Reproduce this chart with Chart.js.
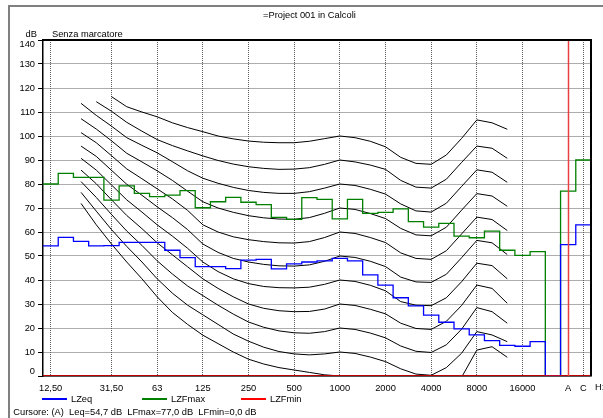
<!DOCTYPE html>
<html><head><meta charset="utf-8">
<script src="https://cdn.jsdelivr.net/npm/chart.js@4/dist/chart.umd.min.js"></script>
<style>
html,body{margin:0;padding:0;background:#fff;}
#wrap{position:relative;width:603px;height:418px;overflow:hidden;font-family:"Liberation Sans",Arial,sans-serif;font-size:9.3px;color:#000;}
#c{position:absolute;left:0;top:0;}
.t{position:absolute;white-space:pre;line-height:9.3px;}
.fr{position:absolute;background:#808080;}
.sw{position:absolute;height:0;width:25px;border-top-width:2px;border-top-style:solid;}
</style></head>
<body><div id="wrap">
<div class="fr" style="left:8px;top:5px;width:595px;height:1.5px"></div>
<div class="fr" style="left:8px;top:5px;width:1.5px;height:413px"></div>
<canvas id="c" width="603" height="418"></canvas>
<div class="t" style="left:263px;top:11.3px">=Project 001 in Calcoli</div>
<div class="t" style="left:25.5px;top:29.7px">dB</div>
<div class="t" style="left:52px;top:29.7px">Senza marcatore</div>
<div class="t" style="left:595px;top:383px">H:</div>
<div class="sw" style="left:42px;top:398px;border-top-color:#0000ff"></div>
<div class="t" style="left:71px;top:395px">LZeq</div>
<div class="sw" style="left:141.5px;top:398px;border-top-color:#008000"></div>
<div class="t" style="left:171px;top:395px">LZFmax</div>
<div class="sw" style="left:240.5px;top:398px;border-top-color:#ff0000"></div>
<div class="t" style="left:270px;top:395px">LZFmin</div>
<div class="t" style="left:13.3px;top:408.3px">Cursore: (A)  Leq=54,7 dB  LFmax=77,0 dB  LFmin=0,0 dB</div>
</div>
<script>
// ---- data ----
const bandLabels = ['12,50','16','20','25','31,50','40','50','63','80','100','125','160','200','250','315','400','500','630','800','1000','1250','1600','2000','2500','3150','4000','5000','6300','8000','10000','12500','16000','20000'];
const totalLabels = ['', 'A', 'C'];
const tickLabels = ['12,50','31,50','63','125','250','500','1000','2000','4000','8000','16000','A','C'];
const yTicks = [0,10,20,30,40,50,60,70,80,90,100,110,120,130,140];

const LZeq   = [54.2,57.8,56.1,54.2,54.3,55.7,55.7,55.7,52.4,49.3,45.6,45.6,44.7,48.3,48.6,44.6,46.7,47.5,48.0,49.0,48.0,42.1,37.9,32.6,29.2,25.4,22.4,19.6,17.1,14.7,12.8,12.4,14.3];
const LZFmax = [80.0,84.4,82.8,82.8,73.3,79.2,76.1,74.7,75.4,77.2,70.1,72.6,74.4,72.4,71.4,66.1,65.3,74.3,73.6,65.5,73.6,67.8,68.2,69.6,64.3,62.0,63.6,58.3,57.6,60.4,52.4,50.3,51.8];
const LZFmin = [0,0,0,0,0,0,0,0,0,0,0,0,0,0,0,0,0,0,0,0,0,0,0,0,0,0,0,0,0,0,0,0,0];
const LZeqTot   = [0, 54.7, 63.0];
const LZFmaxTot = [0, 77.0, 90.0];
const LZFminTot = [0, 0.0, 0.0];
const cursorLabel = 'A';

// equal-loudness contours (phon), per band, null = not drawn
const phon0   = [null,null,71.9,63,55,47.5,40.5,33,26.5,21.5,17,13.5,10,7,5,3.5,2.5,1.5,0.5,0,-0.5,-2,-4,-6.5,-8.5,-9,-6,-0.5,10.8,12.2,7.8,null,null];
const phon10  = [null,null,76.5,68.7,61,54,47.5,40.5,34.5,29.5,25.5,21.5,17.5,14.5,12,10.2,9.2,8.8,9.2,10,9.4,7.9,6,3,0.8,0.3,3.5,9.5,18.5,17.1,14.3,null,null];
const phon20  = [null,null,81,74.4,67.3,60.4,54.4,48,42.5,37.5,33.5,29.5,25.8,22.5,20.3,18.8,18,17.8,18.5,20,19.4,17.9,15.9,12.5,10.3,9.8,13,19.5,28.5,26.8,22,null,null];
const phon30  = [null,null,85.8,80.1,73.4,66.9,61.4,55.5,50.5,45.5,40.5,36.5,33,30,28.2,27.2,26.8,26.9,27.9,30,29.4,27.8,25.9,22,19.8,19.4,22.8,29.4,37.9,36.5,30.3,null,null];
const phon40  = [null,null,90.7,85.8,79.6,73.4,68.3,63,58.3,53.2,47.5,43.5,40.5,38.5,37.3,36.8,36.7,37,38.2,40,39.4,37.8,35.5,31,29.5,29.3,32.6,39.3,47,46,40.5,null,null];
const phon50  = [null,null,95.8,91.5,85.7,79.9,75.3,70.5,66,61,55,51.5,49,47.5,46.5,45.9,45.8,46.3,47.8,50,49.4,47.8,45.6,41.2,39.2,39,42.4,49.3,56.5,55.5,50.6,null,null];
const phon60  = [null,null,101.4,97.2,91.8,86.3,82.2,78,73.8,69,63,60,58,56.8,56,55.5,55.4,56,57.7,60,59.4,57.7,55.6,51.3,49,48.6,52.2,59.2,66.2,65.2,60.6,null,null];
const phon70  = [null,null,107.2,102.9,98,92.8,89.2,85.5,81.5,77,72.6,70,68.2,66.8,65.9,65.4,65.3,66,67.8,70,69.4,67.7,65.6,61.5,58.8,58.4,62,69.1,76,75,70.7,null,null];
const phon80  = [null,null,113.6,108.6,104.1,99.3,96.1,93,89.3,85.5,82.4,80.3,78.6,77.3,76.5,76.1,76.1,76.8,78.3,80,79.4,77.8,75.8,71.7,68.8,68.3,72,79,85.9,84.9,80.7,null,null];
const phon90  = [null,null,null,114.3,110.3,105.7,102,98.5,96,93.8,91.7,89.8,88.3,87.2,86.5,86.1,86.2,86.8,88.2,90,89.2,87.9,86.1,81.5,78.7,78.3,82,89,95.8,94.9,90.7,null,null];
const phon100 = [null,null,null,null,116.4,112.2,110,108,105.5,103.5,101.8,100,98.8,97.9,97.4,97.2,97.2,97.8,98.9,100,99.3,97.8,95.5,91.1,88.6,88.2,92.1,99,106.7,105.5,102.8,null,null];
const contours = [phon0,phon10,phon20,phon30,phon40,phon50,phon60,phon70,phon80,phon90,phon100];

// ---- build ----
const categories = bandLabels.concat(totalLabels);
const tickPos = tickLabels.map(l => categories.indexOf(l));
const cursorPos = categories.indexOf(cursorLabel);

function stepData(vals){
  const pts = vals.map((v,i) => ({x: i - 0.5, y: v}));
  pts.push({x: vals.length - 0.5, y: vals[vals.length - 1]});
  return pts;
}
function curveData(vals){
  return vals.map((v,i) => v === null ? null : {x: i, y: v}).filter(p => p);
}

const datasets = [
  {label:'LZFmin', data: stepData(LZFmin.concat(LZFminTot)), borderColor:'#ff0000', borderWidth:1.5, stepped:true, order:0},
  {label:'LZeq',   data: stepData(LZeq.concat(LZeqTot)),     borderColor:'#0000ff', borderWidth:1.3, stepped:true, order:1},
  {label:'LZFmax', data: stepData(LZFmax.concat(LZFmaxTot)), borderColor:'#008000', borderWidth:1.3, stepped:true, order:2},
];
contours.forEach((c,k) => datasets.push({
  label:'phon' + (k*10), data: curveData(c), borderColor:'#000', borderWidth:1, tension:0, order:10
}));

const framePlugin = {
  id:'frame',
  afterDatasetsDraw(chart){
    const {ctx, chartArea:a, scales:{x}} = chart;
    ctx.save();
    const cx = Math.round(x.getPixelForValue(cursorPos)) + 0.5;
    ctx.strokeStyle = '#e84040'; ctx.lineWidth = 1.5;
    ctx.beginPath(); ctx.moveTo(cx, a.top); ctx.lineTo(cx, a.bottom); ctx.stroke();
    ctx.strokeStyle = '#000'; ctx.lineWidth = 2;
    ctx.beginPath(); ctx.moveTo(a.left, a.top); ctx.lineTo(a.right, a.top); ctx.lineTo(a.right, a.bottom); ctx.stroke();
    ctx.restore();
  }
};

const font = {family:'"Liberation Sans", Arial, sans-serif', size:9.3, lineHeight:1};
new Chart(document.getElementById('c'), {
  type:'line',
  data:{datasets},
  options:{
    responsive:false, animation:false, devicePixelRatio:1,
    layout:{padding:{left:0, top:40, right:12, bottom:0}},
    elements:{point:{radius:0}, line:{fill:false}},
    plugins:{legend:{display:false}, tooltip:{enabled:false}},
    scales:{
      x:{
        type:'linear', min:-0.5, max:categories.length - 0.5,
        afterBuildTicks: s => { s.ticks = tickPos.map(v => ({value:v})); },
        afterFit: s => { s.height = 42; },
        ticks:{autoSkip:false, maxRotation:0, padding:8, color:'#000', font,
               callback: v => categories[Math.round(v)]},
        grid:{color:'#5a5a5a', lineWidth:1, drawTicks:false},
        border:{display:true, color:'#000', width:1.5, dash:[1,1]}
      },
      y:{
        min:0, max:140,
        afterBuildTicks: s => { s.ticks = yTicks.map(v => ({value:v})); },
        afterFit: s => { s.width = 43; },
        ticks:{padding:3, color:'#000', font,
               callback: v => v === 140 ? ['', '140'] : (v === 0 ? ['0', ''] : String(v))},
        grid:{color:'#5a5a5a', lineWidth:1, tickLength:5, tickColor:'#000', tickBorderDash:[]},
        border:{display:true, color:'#000', width:1.5, dash:[1,1]}
      }
    }
  },
  plugins:[framePlugin]
});
</script>
</body></html>
